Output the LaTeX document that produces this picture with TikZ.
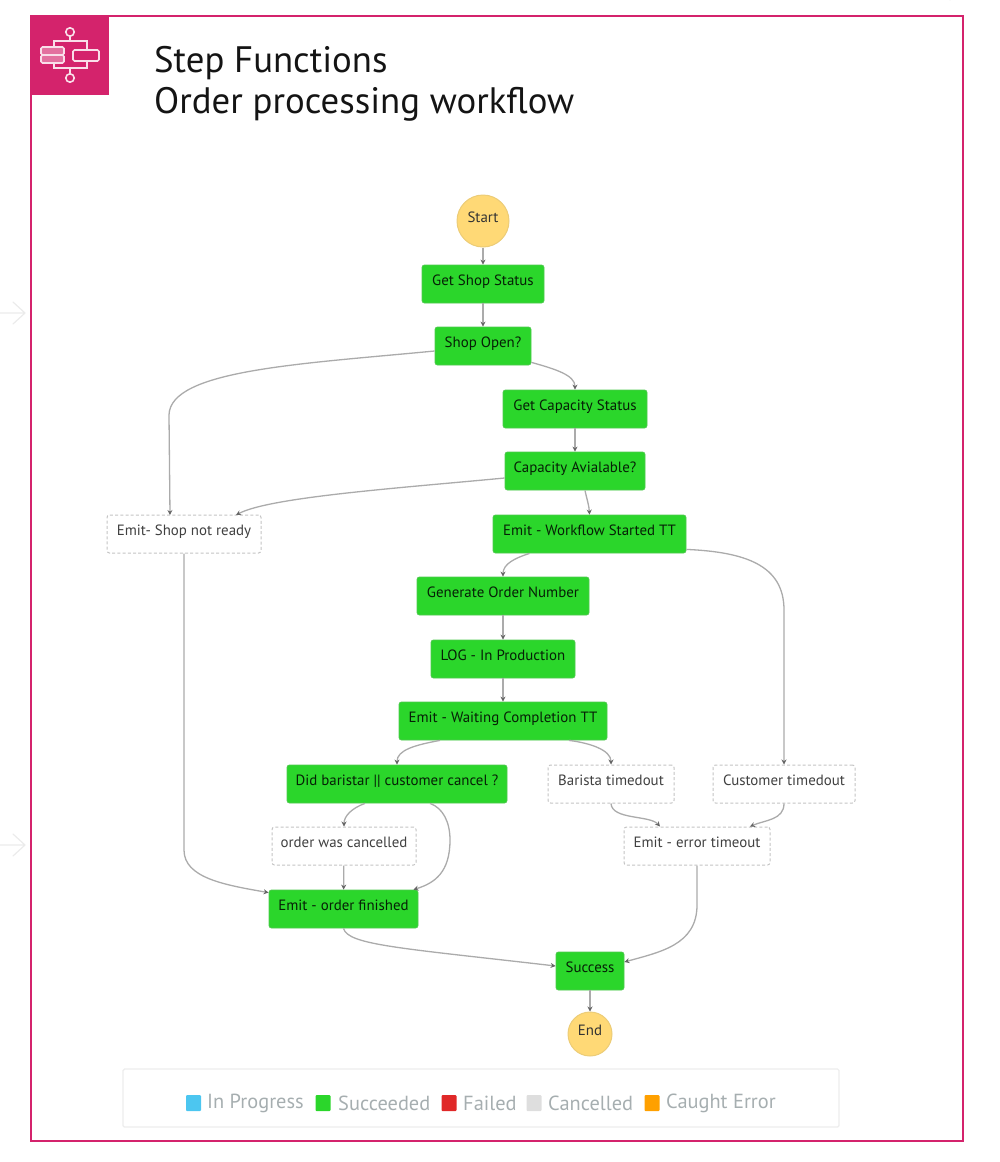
\documentclass[tikz,border=0pt]{standalone}
\usepackage{fontspec}
\setmainfont{PT Sans}
\usetikzlibrary{arrows.meta,calc}
\definecolor{frame}{HTML}{D4236C}
\definecolor{okgreen}{HTML}{2BD62B}
\definecolor{okedge}{HTML}{4FC94F}
\definecolor{startfill}{HTML}{FFD976}
\definecolor{edgegrey}{HTML}{ABABAB}
\definecolor{tipgrey}{HTML}{666666}
\definecolor{dashgrey}{HTML}{C4C4C4}
\definecolor{legtext}{HTML}{A6AEB0}
\tikzset{
  statebase/.style={rounded corners=2.5pt,inner sep=0pt,minimum height=38pt,font=\fontsize{14.9}{16}\selectfont},
  okbox/.style={statebase,fill=okgreen,draw=okedge,line width=.8pt,text=black!85!okgreen},
  idlebox/.style={statebase,fill=white,draw=dashgrey,line width=1pt,dash pattern=on 3pt off 2.2pt,text=black!75},
  terminal/.style={circle,fill=startfill,draw=startfill!85!gray,line width=1pt,inner sep=0pt,font=\fontsize{14.9}{16}\selectfont,text=black!80},
  flow/.style={draw=edgegrey,line width=1.3pt,-{Stealth[length=5pt,width=5pt,color=tipgrey]}},
  faint/.style={draw=black!8,line width=1.2pt,line cap=round,line join=round},
  swatch/.style={minimum width=15pt,minimum height=16pt,inner sep=0pt,rounded corners=1pt},
  legendtext/.style={inner sep=0pt,text=legtext,font=\fontsize{20.4}{22}\selectfont,anchor=west},
  titletext/.style={inner sep=0pt,anchor=west,text=black!92,font=\fontsize{36.8}{40}\selectfont},
  iconline/.style={draw=white!85!frame,line width=1.6pt}
}
\newcommand{\up}[1]{\raisebox{7pt}{#1}}
\begin{document}
\begin{tikzpicture}[x=1pt,y=-1pt]
\useasboundingbox (0,0) rectangle (1000,1162);
% faint background remnants
\draw[faint] (0,313) -- (24,313) (13,302) -- (25,313) -- (13,324);
\draw[faint] (0,845) -- (24,845) (13,834) -- (25,845) -- (13,856);
\draw[faint] (950,0) arc[start angle=190,end angle=330,radius=28];
% frame and icon
\draw[frame,line width=2pt] (31,16) rectangle (963,1141);
\fill[frame] (30,15) rectangle (109,95);
\draw[iconline] (70,32) circle (4.2) (70,78) circle (4.2);
\draw[iconline] (70,36) -- (70,41) (54,47) -- (54,41) -- (87,41) -- (87,50)
  (70,74) -- (70,68) (54,63) -- (54,68) -- (87,68) -- (87,61);
\draw[iconline,fill=white!35!frame,rounded corners=1.5pt] (41,47) rectangle (64,55);
\draw[iconline,fill=white!35!frame,rounded corners=1.5pt] (41,55) rectangle (64,63);
\draw[iconline,rounded corners=1.5pt] (73,50) rectangle (99,61);
% title
\node[titletext] (t1) at (154,63) {Step Functions};
\node[titletext] (t2) at (154,104) {Order processing workflow};
% states
\node[terminal,minimum size=52pt] (start) at (483,221) {\up{Start}};
\node[okbox,minimum width=122pt] (getshop) at (483,284) {\up{Get Shop Status}};
\node[okbox,minimum width=96pt] (shopopen) at (483,346) {\up{Shop Open?}};
\node[okbox,minimum width=144pt] (getcap) at (575,409) {\up{Get Capacity Status}};
\node[okbox,minimum width=140pt] (capav) at (575,471) {\up{Capacity Avialable?}};
\node[idlebox,minimum width=154pt] (notready) at (184,534) {\up{Emit- Shop not ready}};
\node[okbox,minimum width=193pt] (wfstart) at (589.5,534) {\up{Emit - Workflow Started TT}};
\node[okbox,minimum width=172pt] (gen) at (503,596) {\up{Generate Order Number}};
\node[okbox,minimum width=144pt] (log) at (503,659) {\up{LOG - In Production}};
\node[okbox,minimum width=208pt] (waiting) at (503,721) {\up{Emit - Waiting Completion TT}};
\node[okbox,minimum width=220pt] (did) at (397,784) {\up{Did baristar || customer cancel ?}};
\node[idlebox,minimum width=126pt] (barista) at (611,784) {\up{Barista timedout}};
\node[idlebox,minimum width=142pt] (customer) at (784,784) {\up{Customer timedout}};
\node[idlebox,minimum width=144pt] (cancelled) at (344,846) {\up{order was cancelled}};
\node[idlebox,minimum width=146pt] (errort) at (697,846) {\up{Emit - error timeout}};
\node[okbox,minimum width=149pt] (finished) at (343.5,909) {\up{Emit - order finished}};
\node[okbox,minimum width=68pt] (success) at (590,971) {\up{Success}};
\node[terminal,minimum size=44pt] (endn) at (590,1034) {\up{End}};
% connectors
\draw[flow] (start) -- (getshop);
\draw[flow] (getshop) -- (shopopen);
\draw[flow] ($(shopopen.south east)+(0,-3)$) .. controls (555,369) and (575,375) .. (getcap.north);
\draw[flow] ($(shopopen.west)+(0,5)$) .. controls (300,364) and (170,370) .. (169,415) -- (170,515);
\draw[flow] (getcap) -- (capav);
\draw[flow] ($(capav.west)+(0,7)$) .. controls (400,488) and (270,497) .. (236,515);
\draw[flow] ($(capav.south)+(10,0)$) .. controls (587,500) and (589,505) .. (wfstart.north);
\draw[flow] ($(wfstart.south)+(-60,0)$) .. controls (515,558) and (503,564) .. (gen.north);
\draw[flow] ($(wfstart.south east)+(0,-4)$) .. controls (745,552) and (784,565) .. (784,610) -- (customer.north);
\draw[flow] (gen) -- (log);
\draw[flow] (log) -- (waiting);
\draw[flow] ($(waiting.south)+(-63,0)$) .. controls (415,745) and (397,750) .. (did.north);
\draw[flow] ($(waiting.south)+(66,0)$) .. controls (590,743) and (611,750) .. (barista.north);
\draw[flow] ($(did.south)+(-32,0)$) .. controls (352,808) and (344,816) .. (cancelled.north);
\draw[flow] ($(did.south)+(33,0)$) .. controls (443,808) and (450,822) .. (450,840) .. controls (450,872) and (435,883) .. ($(finished.north east)+(-5,0)$);
\draw[flow] (cancelled) -- (finished);
\draw[flow] (notready.south) -- (184,850) .. controls (184,878) and (225,885) .. ($(finished.north west)+(0,3)$);
\draw[flow] (barista.south) .. controls (612,820) and (650,815) .. ($(errort.north)+(-37,0)$);
\draw[flow] (customer.south) .. controls (784,820) and (765,820) .. ($(errort.north)+(53,0)$);
\draw[flow] (errort.south) -- (697,905) .. controls (697,945) and (660,952) .. ($(success.east)+(0,-9)$);
\draw[flow] (finished.south) .. controls (348,945) and (400,948) .. ($(success.west)+(0,-5)$);
\draw[flow] (success) -- (endn);
% legend
\node[draw=black!7,line width=1.4pt,rounded corners=1.5pt,minimum width=716pt,minimum height=58pt,inner sep=0pt] (legend) at (481,1098) {};
\node[swatch,fill={rgb,255:red,76;green,198;blue,240}] (s1) at (193.5,1103) {};
\node[legendtext] (l1) at (207,1103.5) {In Progress};
\node[swatch,fill=okgreen] (s2) at (323,1103) {};
\node[legendtext] (l2) at (338,1103.5) {Succeeded};
\node[swatch,fill={rgb,255:red,224;green,40;blue,40}] (s3) at (449,1103) {};
\node[legendtext] (l3) at (463,1103.5) {Failed};
\node[swatch,fill=black!13] (s4) at (534,1103) {};
\node[legendtext] (l4) at (548,1103.5) {Cancelled};
\node[swatch,fill={rgb,255:red,255;green,160;blue,0}] (s5) at (652,1103) {};
\node[legendtext] (l5) at (666,1103.5) {Caught Error};
\end{tikzpicture}
\end{document}
